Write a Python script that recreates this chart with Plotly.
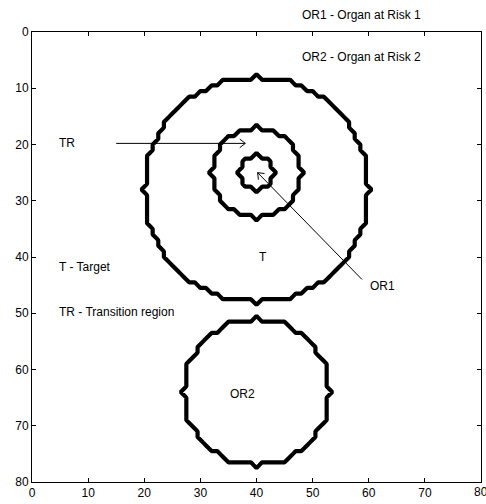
import numpy as np
import plotly.graph_objects as go

# Structures on the 80 x 80 planning grid: centre column, centre row, radius (grid units)
structure_names = ["T", "TR", "OR1", "OR2"]
centre_x = [40, 40, 40, 40]
centre_y = [28, 25, 25, 64]
radius = [20, 8, 3, 13]

grid_size = 80
tick_values = [0, 10, 20, 30, 40, 50, 60, 70, 80]

FONT = "Liberation Sans, Arial, Helvetica, sans-serif"

fig = go.Figure()

# Each structure is a binary mask on the integer grid, outlined by its 0.5 contour
cols = np.arange(0, grid_size + 1)
rows = np.arange(0, grid_size + 1)
X, Y = np.meshgrid(cols, rows)
for name, cx, cy, r in zip(structure_names, centre_x, centre_y, radius):
    mask = (((X - cx) ** 2 + (Y - cy) ** 2) <= r ** 2).astype(float)
    fig.add_trace(go.Contour(
        x=cols, y=rows, z=mask, name=name,
        autocontour=False,
        contours=dict(start=0.5, end=0.5, size=1, coloring="none"),
        line=dict(color="black", width=4.2, smoothing=0),
        showscale=False, hoverinfo="skip", showlegend=False,
    ))

text_font = dict(family=FONT, size=12, color="black")

# Text labels inside the axes (left aligned, vertically centred)
labels = [
    ("OR2 - Organ at Risk 2", 47.7, 4.5),
    ("TR", 4.5, 19.8),
    ("T - Target", 4.5, 41.8),
    ("TR - Transition region", 4.5, 49.8),
    ("T", 40.0, 40.0),
    ("OR2", 34.9, 64.4),
    ("OR1", 59.8, 45.2),
]
annotations = [
    dict(text=t, x=x, y=y, xref="x", yref="y", xanchor="left", yanchor="middle",
         showarrow=False, font=text_font)
    for t, x, y in labels
]
# Legend line above the frame
annotations.append(dict(text="OR1 - Organ at Risk 1", x=47.7, xref="x", y=1, yref="paper",
                        yshift=17, xanchor="left", yanchor="middle",
                        showarrow=False, font=text_font))
# Last x tick label, which sits against the right edge of the page
annotations.append(dict(text=str(tick_values[-1]), x=tick_values[-1], xref="x", y=0, yref="paper",
                        yshift=-10, xanchor="center", yanchor="middle",
                        showarrow=False, font=text_font))

# Pointer arrows: shaft plus two open barbs at the head
arrows = [((15.0, 19.8), (38.0, 19.8)), ((58.8, 44.0), (40.2, 25.0))]
shapes = []
barb_len, barb_ang = 1.25, np.deg2rad(38)
for (x0, y0), (x1, y1) in arrows:
    shapes.append(dict(type="line", xref="x", yref="y", x0=x0, y0=y0, x1=x1, y1=y1,
                       line=dict(color="black", width=1)))
    d = np.array([x0 - x1, y0 - y1])
    d = d / np.hypot(*d)
    for s in (1, -1):
        c, sn = np.cos(s * barb_ang), np.sin(s * barb_ang)
        v = np.array([c * d[0] - sn * d[1], sn * d[0] + c * d[1]]) * barb_len
        shapes.append(dict(type="line", xref="x", yref="y", x0=x1, y0=y1,
                           x1=x1 + v[0], y1=y1 + v[1],
                           line=dict(color="black", width=1)))

axis_common = dict(
    showgrid=False, zeroline=False, showline=True, linecolor="black", linewidth=1,
    mirror="ticks", ticks="inside", ticklen=4, tickcolor="black", tickwidth=1,
    tickfont=text_font,
)

fig.update_layout(
    width=486, height=504,
    margin=dict(l=32, r=5, t=32, b=22),
    paper_bgcolor="white", plot_bgcolor="white",
    xaxis=dict(range=[0, grid_size], tickvals=tick_values,
               ticktext=[str(v) for v in tick_values[:-1]] + [""], **axis_common),
    yaxis=dict(range=[grid_size, 0], tickvals=tick_values,
               ticktext=[str(v) for v in tick_values], **axis_common),
    annotations=annotations,
    shapes=shapes,
    showlegend=False,
)

fig.write_html("out.html")
